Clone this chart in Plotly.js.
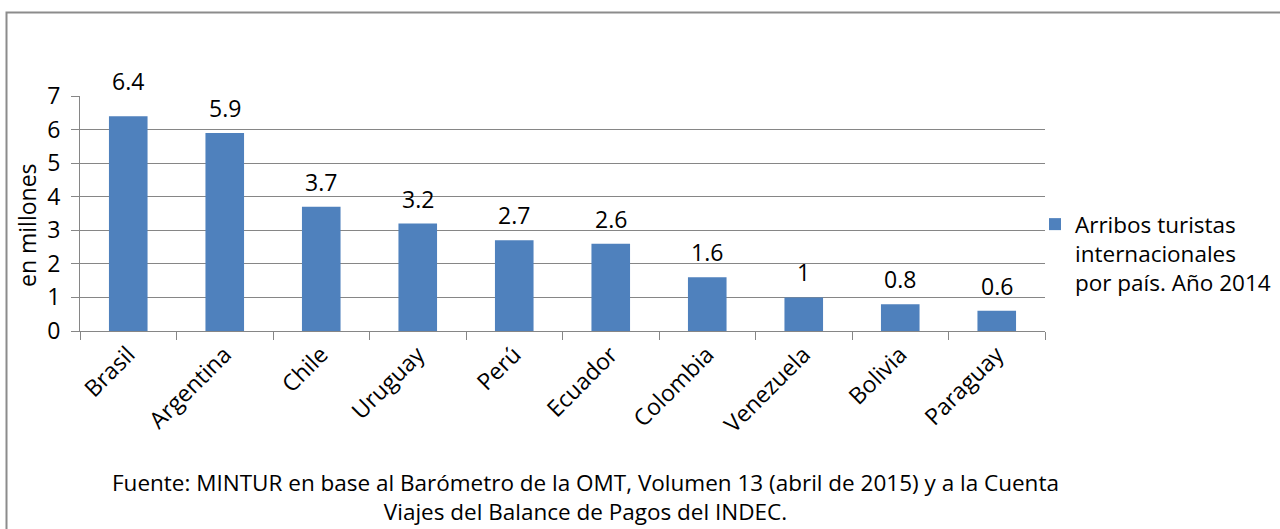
<!DOCTYPE html>
<html>
<head>
<meta charset="utf-8">
<script src="https://cdn.plot.ly/plotly-3.0.1.min.js"></script>
<style>html,body{margin:0;padding:0;background:#fff;}#chart{width:1280px;height:529px;}</style>
</head>
<body>
<div id="chart"></div>
<script>
var countries = ["Brasil","Argentina","Chile","Uruguay","Perú","Ecuador","Colombia","Venezuela","Bolivia","Paraguay"];
var arrivals = [6.4, 5.9, 3.7, 3.2, 2.7, 2.6, 1.6, 1, 0.8, 0.6];
var seriesName = "Arribos turistas<br>internacionales<br>por país. Año 2014";
var yTitle = "en millones";
var sourceText = "Fuente: MINTUR en base al Barómetro de la OMT, Volumen 13 (abril de 2015) y a la Cuenta<br>Viajes del Balance de Pagos del INDEC.";

var W = 1280, H = 529;
var L = 80, R = 1045, T = 96, B = 331;
var pw = R - L, ph = B - T;
function px(x){ return (x - L) / pw; }
function py(y){ return (B - y) / ph; }

var FONT = "'Open Sans', sans-serif";
var FS = 23;
var gray = "#868686";

var annotations = arrivals.map(function(v, i){
  return {x: countries[i], y: v, xref: 'x', yref: 'y', text: String(v), showarrow: false,
          yanchor: 'bottom', yshift: (i === 0 ? 17 : 7), font: {family: FONT, size: FS, color: '#000'}};
});
annotations.push({xref:'paper', yref:'paper', x: px(27), y: py(225), xanchor:'center', yanchor:'middle',
  text: yTitle, textangle: -90, showarrow:false, font:{family: FONT, size: FS, color:'#000'}});
annotations.push({xref:'paper', yref:'paper', x: px(585), y: py(497), xanchor:'center', yanchor:'middle',
  align: 'center', text: sourceText, showarrow:false, font:{family: FONT, size: 22.5, color:'#000'}});

var trace = {
  type: 'bar', x: countries, y: arrivals, name: seriesName, width: 0.4,
  marker: {color: '#4F81BD', line: {color: '#4F81BD', width: 0}},
  hoverinfo: 'x+y'
};

var layout = {
  width: W, height: H,
  margin: {l: L, r: W - R, t: T, b: H - B, pad: 0, autoexpand: false},
  paper_bgcolor: '#fff', plot_bgcolor: '#fff',
  font: {family: FONT, size: FS, color: '#000'},
  showlegend: true,
  legend: {x: px(1035), y: py(203), xanchor: 'left', yanchor: 'top', valign: 'top',
           bgcolor: 'rgba(0,0,0,0)', itemwidth: 30, font: {family: FONT, size: 22.5, color:'#000'}},
  xaxis: {type: 'category', range: [-0.5, 9.5], tickangle: -45, tickson: 'boundaries', automargin: false,
          ticks: 'outside', ticklen: 8, tickcolor: gray, showline: true, linecolor: gray, linewidth: 1,
          showgrid: false, zeroline: false, tickfont: {family: FONT, size: FS, color: '#000'}, fixedrange: true},
  yaxis: {range: [0, 7], dtick: 1, tick0: 0, ticks: 'outside', ticklen: 8, tickcolor: gray, automargin: false,
          showline: true, linecolor: gray, linewidth: 1, showgrid: true, gridcolor: gray, gridwidth: 1,
          zeroline: false, ticklabelstandoff: 6, tickfont: {family: FONT, size: FS, color: '#000'}, fixedrange: true},
  annotations: annotations,
  shapes: [{type: 'rect', xref: 'paper', yref: 'paper', x0: px(6.5), x1: px(1300), y0: py(560), y1: py(12.5),
            line: {color: '#8c8c8c', width: 2}, fillcolor: 'rgba(0,0,0,0)', layer: 'below'}]
};

Plotly.newPlot('chart', [trace], layout, {displayModeBar: false, staticPlot: true});
</script>
</body>
</html>
